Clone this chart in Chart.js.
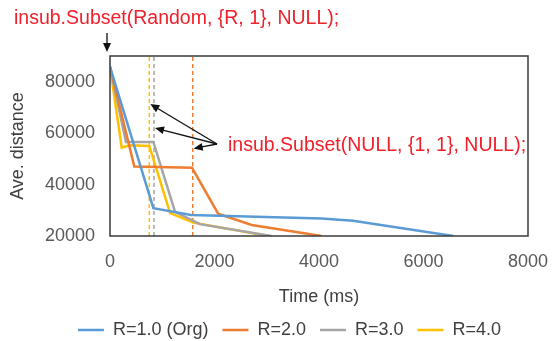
<!DOCTYPE html>
<html>
<head>
<meta charset="utf-8">
<script src="https://cdn.jsdelivr.net/npm/chart.js@4.4.0/dist/chart.umd.min.js"></script>
<style>
  html, body { margin: 0; padding: 0; background: #fff; }
  #wrap { width: 552px; height: 341px; }
</style>
</head>
<body>
<div id="wrap"><canvas id="chart"></canvas></div>
<script>
// data (time in ms, average distance)
const seriesNames = ["R=1.0 (Org)", "R=2.0", "R=3.0", "R=4.0"];
const timeR1 = [0, 830, 1550, 4050, 4650, 6570];
const distR1 = [85800, 30800, 28200, 26800, 25900, 20000];
const timeR2 = [0, 465, 1570, 2070, 2710, 4050];
const distR2 = [85800, 47000, 46500, 28700, 24300, 20000];
const timeR3 = [0, 306, 830, 1245, 1720, 3090];
const distR3 = [85800, 56600, 56600, 29400, 24600, 20000];
const timeR4 = [0, 224, 383, 752, 1150, 1595, 3030];
const distR4 = [85800, 54400, 55300, 55000, 28900, 25200, 20000];

// moments where insub.Subset(NULL, {1, 1}, NULL) is called
const switchTimes = [1583, 842, 752]; // R=2.0, R=3.0, R=4.0
const arrowTargets = [54000, 62000, 71300]; // y values the arrows point to

const xTicks = [0, 2000, 4000, 6000, 8000];
const yTicks = [20000, 40000, 60000, 80000];

const topNote = "insub.Subset(Random, {R, 1}, NULL);";
const midNote = "insub.Subset(NULL, {1, 1}, NULL);";

const colors = ["#5B9BD5", "#ED7D31", "#A5A5A5", "#FFC000"];
const times = [timeR1, timeR2, timeR3, timeR4];
const dists = [distR1, distR2, distR3, distR4];

const datasets = seriesNames.map((name, i) => ({
  label: name,
  data: times[i].map((t, j) => ({ x: t, y: dists[i][j] })),
  borderColor: colors[i],
  backgroundColor: colors[i],
  borderWidth: 2.5,
  pointRadius: 0,
  showLine: true,
  tension: 0
}));

// dashed verticals for the switch moments
switchTimes.forEach((t, k) => {
  datasets.push({
    label: "",
    data: [{ x: t, y: 20000 }, { x: t, y: 90000 }],
    borderColor: colors[k + 1],
    borderWidth: 1.5,
    borderDash: [4, 3],
    pointRadius: 0,
    showLine: true
  });
});

function arrow(ctx, x0, y0, x1, y1) {
  const ang = Math.atan2(y1 - y0, x1 - x0);
  const len = 9, wid = 4;
  ctx.beginPath();
  ctx.moveTo(x0, y0);
  ctx.lineTo(x1 - Math.cos(ang) * len * 0.8, y1 - Math.sin(ang) * len * 0.8);
  ctx.stroke();
  ctx.beginPath();
  ctx.moveTo(x1, y1);
  ctx.lineTo(x1 - Math.cos(ang) * len - Math.sin(ang) * wid, y1 - Math.sin(ang) * len + Math.cos(ang) * wid);
  ctx.lineTo(x1 - Math.cos(ang) * len + Math.sin(ang) * wid, y1 - Math.sin(ang) * len - Math.cos(ang) * wid);
  ctx.closePath();
  ctx.fill();
}

const notes = {
  id: "notes",
  afterDraw(chart) {
    const { ctx, chartArea: a, scales: { x, y } } = chart;
    ctx.save();
    ctx.strokeStyle = "#3a3a3a";
    ctx.lineWidth = 1.5;
    ctx.strokeRect(a.left, a.top, a.right - a.left, a.bottom - a.top);

    ctx.fillStyle = "#f0202a";
    ctx.font = '19.5px "Liberation Sans"';
    ctx.textBaseline = "middle";
    ctx.fillText(topNote, 14, 19);
    ctx.fillText(midNote, 228, 146);

    ctx.strokeStyle = "#111";
    ctx.fillStyle = "#111";
    ctx.lineWidth = 1.3;
    const x0 = x.getPixelForValue(0) - 3;
    arrow(ctx, x0, 33, x0, a.top - 4);
    switchTimes.forEach((t, k) => {
      arrow(ctx, 217, 144, x.getPixelForValue(t) + 1, y.getPixelForValue(arrowTargets[k]));
    });
    ctx.restore();
  }
};

const tickFont = { size: 18, family: '"Liberation Sans"' };

new Chart(document.getElementById("chart"), {
  type: "scatter",
  data: { datasets },
  plugins: [notes],
  options: {
    responsive: true,
    maintainAspectRatio: false,
    animation: false,
    layout: { padding: { top: 56, left: 40, right: 13, bottom: -8 } },
    plugins: {
      tooltip: { enabled: false },
      legend: {
        position: "bottom",
        labels: {
          filter: item => item.datasetIndex < 4,
          usePointStyle: true,
          pointStyle: "line",
          pointStyleWidth: 26,
          padding: 14,
          color: "#404040",
          font: tickFont
        }
      }
    },
    scales: {
      x: {
        type: "linear",
        min: 0,
        max: 8000,
        afterBuildTicks: s => { s.ticks = xTicks.map(v => ({ value: v })); },
        afterFit: s => { s.height = 71; s.paddingLeft = 0; s.paddingRight = 24; },
        grid: { display: false, drawTicks: false },
        border: { display: false },
        ticks: { padding: 15, color: "#595959", font: tickFont, callback: v => String(v) },
        title: {
          display: true,
          text: "Time (ms)",
          color: "#404040",
          padding: { top: 0, bottom: -0.8 },
          font: tickFont
        }
      },
      y: {
        type: "linear",
        min: 20000,
        max: 90000,
        afterBuildTicks: s => { s.ticks = yTicks.map(v => ({ value: v })); },
        afterFit: s => { s.width = 70; },
        grid: { display: false, drawTicks: false },
        border: { display: false },
        ticks: { padding: 15, color: "#595959", font: tickFont, callback: v => String(v) },
        title: {
          display: true,
          text: "Ave. distance",
          color: "#404040",
          padding: { top: -33, bottom: 0 },
          font: tickFont
        }
      }
    }
  }
});
</script>
</body>
</html>
